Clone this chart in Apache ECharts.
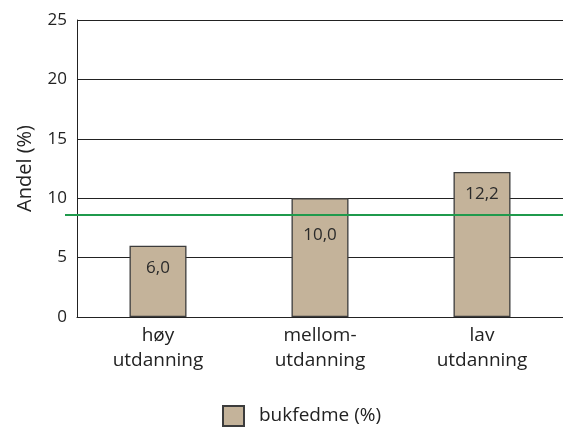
<!DOCTYPE html>
<html>
<head>
<meta charset="utf-8">
<script src="https://cdn.jsdelivr.net/npm/echarts@6/dist/echarts.min.js"></script>
<style>
  html, body { margin: 0; padding: 0; background: #fff; }
  #chart { width: 563px; height: 428px; }
</style>
</head>
<body>
<div id="chart"></div>
<script>
// Share with abdominal obesity by education level
const categories = ['høy\nutdanning', 'mellom-\nutdanning', 'lav\nutdanning'];
const values = [6.0, 10.0, 12.2];
const seriesName = 'bukfedme (%)';
const referenceLevel = 8.6;
const yTicks = [0, 5, 10, 15, 20, 25];

const FONT = '"Open Sans", sans-serif';
const fmt = v => v.toFixed(1).replace('.', ',');

const chart = echarts.init(document.getElementById('chart'));
chart.setOption({
  animation: false,
  textStyle: { fontFamily: FONT },
  grid: { left: 77, right: 0, top: 20, bottom: 111 },
  legend: {
    data: [{ name: seriesName, icon: 'rect' }],
    top: 400,
    left: 217,
    itemWidth: 21,
    itemHeight: 20,
    itemGap: 10,
    textStyle: { fontFamily: FONT, fontSize: 19, color: '#222', padding: [0, 0, 0, 10] }
  },
  xAxis: {
    type: 'category',
    data: categories,
    axisLine: { lineStyle: { color: '#222', width: 1 } },
    axisTick: { inside: true, length: 6, lineStyle: { color: '#222' } },
    axisLabel: { fontFamily: FONT, fontSize: 19, color: '#222', lineHeight: 25, margin: 6 }
  },
  yAxis: {
    type: 'value',
    min: yTicks[0],
    max: yTicks[yTicks.length - 1],
    interval: 5,
    name: 'Andel (%)',
    nameLocation: 'middle',
    nameGap: 42,
    nameTextStyle: { fontFamily: FONT, fontSize: 20, color: '#222' },
    axisLine: { show: true, lineStyle: { color: '#222', width: 1 } },
    axisTick: { show: false },
    axisLabel: { fontFamily: FONT, fontSize: 17, color: '#222', margin: 10 },
    splitLine: { lineStyle: { color: '#222', width: 1 } }
  },
  series: [{
    name: seriesName,
    type: 'bar',
    clip: false,
    barWidth: 57,
    data: values.map((v, i) => ({
      value: v,
      // keep the middle label clear of the reference line
      label: i === 1 ? { distance: 28 } : undefined
    })),
    itemStyle: { color: '#c4b39a', borderColor: '#3c3c3c', borderWidth: 1.3 },
    label: {
      show: true,
      position: 'insideTop',
      distance: 14,
      fontFamily: FONT,
      fontSize: 17,
      color: '#2a2a2a',
      formatter: p => fmt(p.value)
    }
  }]
});

// Reference line: placed through the y scale, running from just left of
// the axis to the right edge of the chart.
const refY = chart.convertToPixel({ yAxisIndex: 0 }, referenceLevel);
chart.setOption({
  series: [{
    markLine: {
      silent: true,
      symbol: 'none',
      label: { show: false },
      lineStyle: { color: '#1f9a4c', width: 2, type: 'solid' },
      data: [[{ x: 65, y: refY }, { x: chart.getWidth(), y: refY }]]
    }
  }]
});
</script>
</body>
</html>
